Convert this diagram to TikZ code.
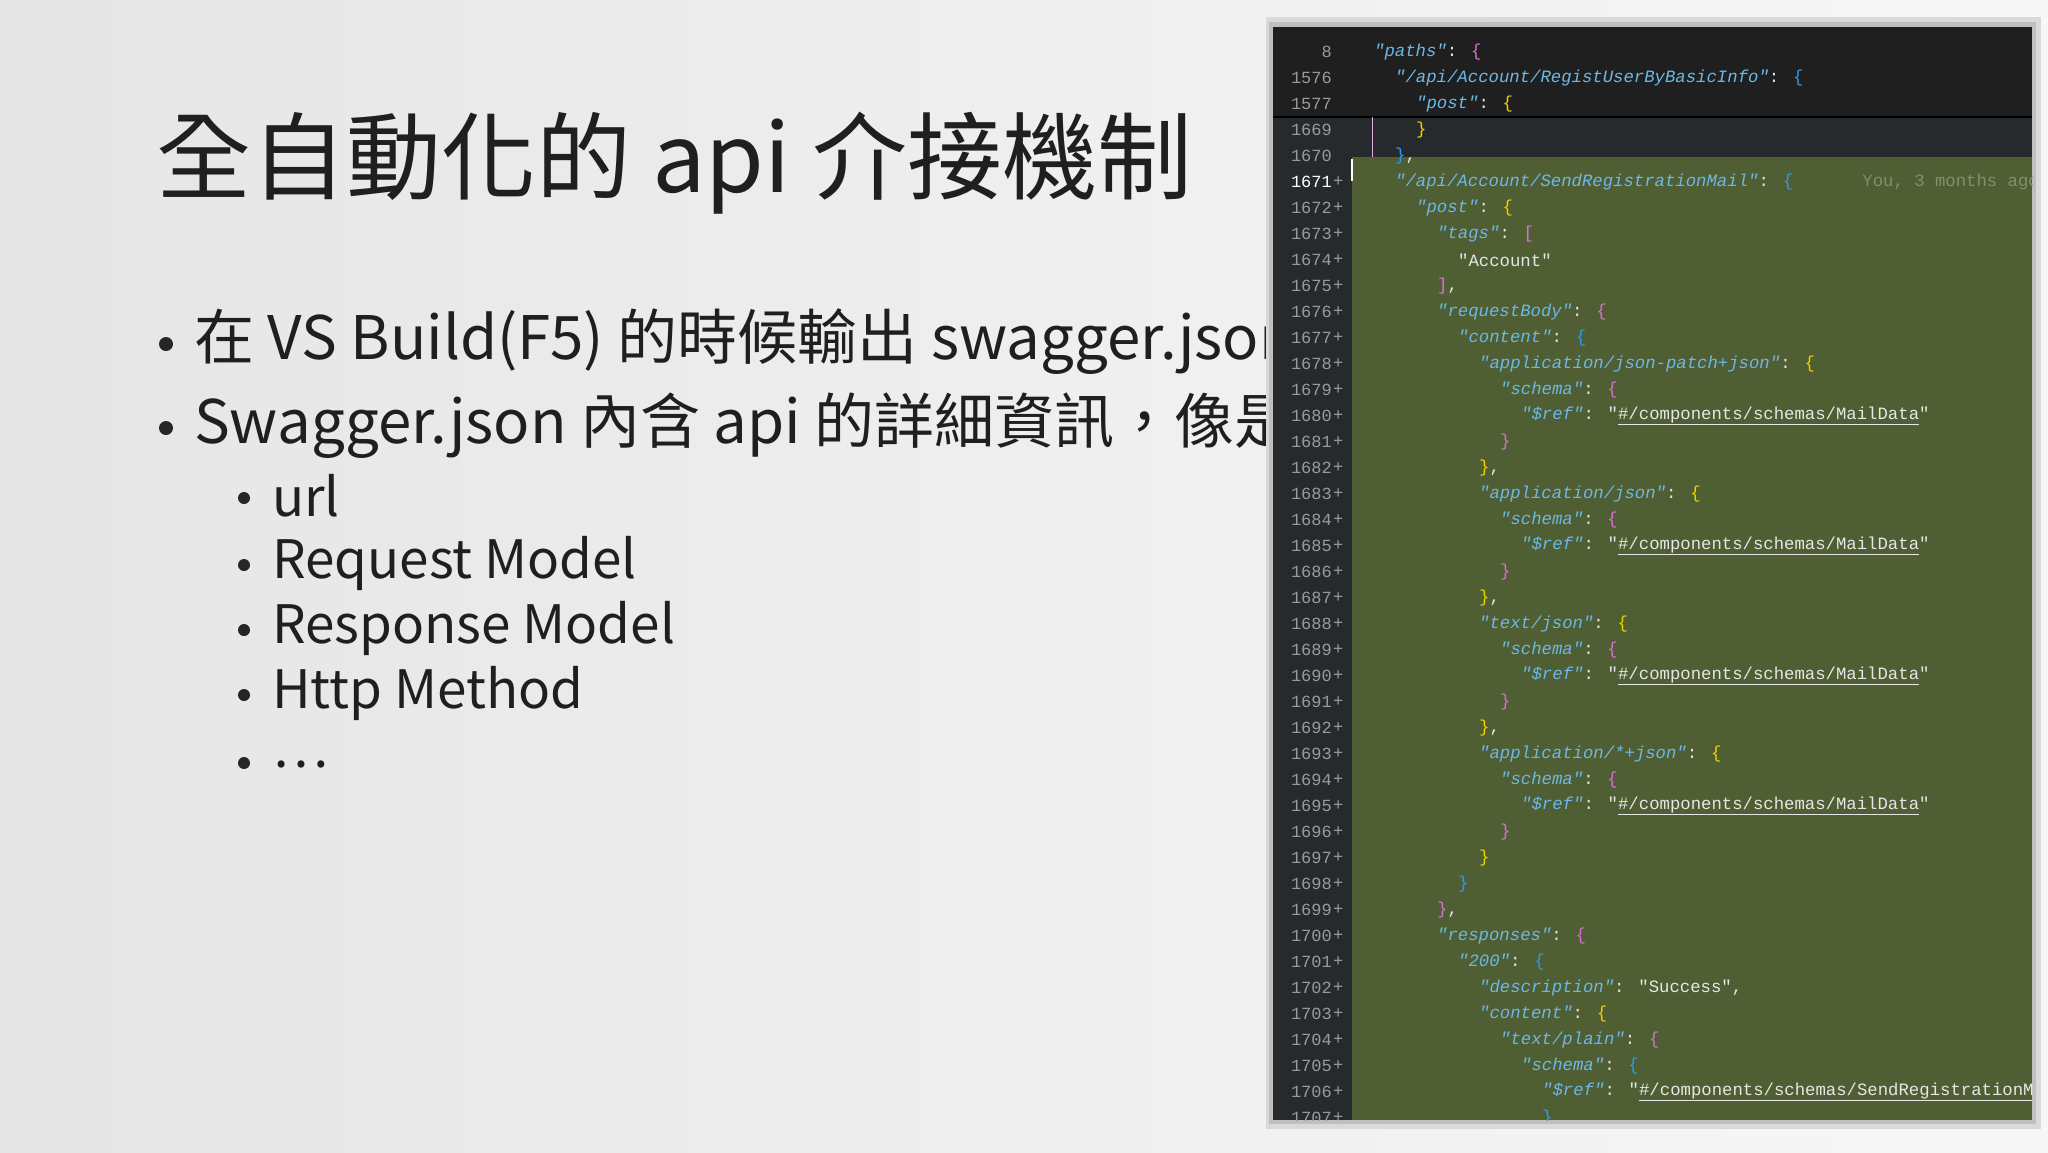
\documentclass[tikz,border=0pt]{standalone}
\usepackage{fontspec}
\newfontfamily\cjk{Noto Sans CJK TC}
\newfontfamily\codef{Liberation Mono}
\definecolor{keyc}{HTML}{6DB8E8}
\definecolor{strc}{HTML}{E6E6E6}
\definecolor{bma}{HTML}{D86FD6}
\definecolor{bbl}{HTML}{2D9BF0}
\definecolor{bye}{HTML}{F2D000}
\definecolor{numc}{HTML}{9A9A9A}
\definecolor{greenbg}{HTML}{4F5E33}
\definecolor{darkbg}{HTML}{272A2D}
\newcommand\K[1]{\textcolor{keyc}{\itshape"#1"}\textcolor{strc}{:}}
\newcommand\Sv[1]{\textcolor{strc}{"#1"}}
\newcommand\Rf[1]{\textcolor{strc}{"\underline{#1}"}}
\newcommand\Bm[1]{\textcolor{bma}{#1}}
\newcommand\Bb[1]{\textcolor{bbl}{#1}}
\newcommand\By[1]{\textcolor{bye}{#1}}
\newcommand\Cm{\textcolor{strc}{,}}
\tikzset{
  numst/.style={anchor=east,inner sep=0pt,font=\codef\fontsize{17}{20}\selectfont,text=numc},
  plusst/.style={anchor=west,inner sep=0pt,font=\codef\fontsize{17}{20}\selectfont,text=numc},
  codest/.style={anchor=west,inner sep=0pt,font=\codef\fontsize{17.3}{20}\selectfont},
  titlest/.style={anchor=west,inner sep=0pt,font=\cjk\fontsize{95}{100}\selectfont,text=black!88},
  bul/.style={anchor=west,inner sep=0pt,font=\cjk\fontsize{60}{70}\selectfont,text=black!88},
  sbul/.style={anchor=west,inner sep=0pt,font=\cjk\fontsize{53}{60}\selectfont,text=black!88},
  dot/.style={circle,fill=black!85,inner sep=0pt,minimum size=#1}
}
\newcommand\cl[5]{%
  \node[numst,#5] (n#1) at (1332,{52+26*#1}) {#2};
  \node[codest] (c#1) at ({1374+21*#3},{52+26*#1}) {#4};}
\begin{document}
\begin{tikzpicture}[x=1pt,y=-1pt]
\useasboundingbox (0,0) rectangle (2048,1152);
\shade[left color=black!10,right color=black!3] (0,0) rectangle (2048,1152);
% left text
\node[titlest] (title) at (156,163) {全自動化的 api 介接機制};
\begin{scope}
\clip (0,0) rectangle (1266,1152);
\node[dot=14pt] (d1) at (166,344) {};
\node[bul] (b1) at (194,342) {在 VS Build(F5) 的時候輸出 swagger.json};
\node[dot=14pt] (d2) at (166,428) {};
\node[bul] (b2) at (194,426) {Swagger.json 內含 api 的詳細資訊，像是};
\end{scope}
\node[dot=12pt] (e1) at (244,498) {};
\node[sbul] (s1) at (272,496) {url};
\node[dot=12pt] (e2) at (244,565) {};
\node[sbul] (s2) at (272,563) {Request Model};
\node[dot=12pt] (e3) at (244,630) {};
\node[sbul] (s3) at (272,628) {Response Model};
\node[dot=12pt] (e4) at (244,695) {};
\node[sbul] (s4) at (272,693) {Http Method};
\node[dot=12pt] (e5) at (244,763) {};
\node[sbul] (s5) at (272,764) {…};
% panel
\fill[black!15] (1266,17) rectangle (2041,1129);
\fill[black!25] (1269,22) rectangle (2036,1124);
\fill[darkbg] (1273,27) rectangle (2032,1120);
\fill[black!88] (1273,27) rectangle (2032,117);
\draw[black,line width=1.5pt] (1273,117) -- (2032,117);
\fill[greenbg] (1352,157) rectangle (2032,1120);
\draw[white,line width=2pt] (1352,159) -- (1352,181);
\draw[bma!60,line width=1pt] (1372,117) -- (1372,157);
\begin{scope}
\clip (1273,27) rectangle (2032,1120);
\cl{0}{8}{0}{\K{paths} \Bm{\{}}{}
\cl{1}{1576}{1}{\K{/api/Account/RegistUserByBasicInfo} \Bb{\{}}{}
\cl{2}{1577}{2}{\K{post} \By{\{}}{}
\cl{3}{1669}{2}{\By{\}}}{}
\cl{4}{1670}{1}{\Bb{\}}\Cm}{}
\cl{5}{1671}{1}{\K{/api/Account/SendRegistrationMail} \Bb{\{}\hspace{4em}\textcolor{white!30!greenbg}{You, 3 months ago}}{text=white}
\cl{6}{1672}{2}{\K{post} \By{\{}}{}
\cl{7}{1673}{3}{\K{tags} \Bm{[}}{}
\cl{8}{1674}{4}{\Sv{Account}}{}
\cl{9}{1675}{3}{\Bm{]}\Cm}{}
\cl{10}{1676}{3}{\K{requestBody} \Bm{\{}}{}
\cl{11}{1677}{4}{\K{content} \Bb{\{}}{}
\cl{12}{1678}{5}{\K{application/json-patch+json} \By{\{}}{}
\cl{13}{1679}{6}{\K{schema} \Bm{\{}}{}
\cl{14}{1680}{7}{\K{\$ref} \Rf{\#/components/schemas/MailData}}{}
\cl{15}{1681}{6}{\Bm{\}}}{}
\cl{16}{1682}{5}{\By{\}}\Cm}{}
\cl{17}{1683}{5}{\K{application/json} \By{\{}}{}
\cl{18}{1684}{6}{\K{schema} \Bm{\{}}{}
\cl{19}{1685}{7}{\K{\$ref} \Rf{\#/components/schemas/MailData}}{}
\cl{20}{1686}{6}{\Bm{\}}}{}
\cl{21}{1687}{5}{\By{\}}\Cm}{}
\cl{22}{1688}{5}{\K{text/json} \By{\{}}{}
\cl{23}{1689}{6}{\K{schema} \Bm{\{}}{}
\cl{24}{1690}{7}{\K{\$ref} \Rf{\#/components/schemas/MailData}}{}
\cl{25}{1691}{6}{\Bm{\}}}{}
\cl{26}{1692}{5}{\By{\}}\Cm}{}
\cl{27}{1693}{5}{\K{application/*+json} \By{\{}}{}
\cl{28}{1694}{6}{\K{schema} \Bm{\{}}{}
\cl{29}{1695}{7}{\K{\$ref} \Rf{\#/components/schemas/MailData}}{}
\cl{30}{1696}{6}{\Bm{\}}}{}
\cl{31}{1697}{5}{\By{\}}}{}
\cl{32}{1698}{4}{\Bb{\}}}{}
\cl{33}{1699}{3}{\Bm{\}}\Cm}{}
\cl{34}{1700}{3}{\K{responses} \Bm{\{}}{}
\cl{35}{1701}{4}{\K{200} \Bb{\{}}{}
\cl{36}{1702}{5}{\K{description} \Sv{Success}\Cm}{}
\cl{37}{1703}{5}{\K{content} \By{\{}}{}
\cl{38}{1704}{6}{\K{text/plain} \Bm{\{}}{}
\cl{39}{1705}{7}{\K{schema} \Bb{\{}}{}
\cl{40}{1706}{8}{\K{\$ref} \Rf{\#/components/schemas/SendRegistrationMail}}{}
\cl{41}{1707}{8}{\Bb{\}}}{}
\foreach \i in {5,...,41}{\node[plusst] at (1333,{52+26*\i}) {+};}
\end{scope}
\end{tikzpicture}
\end{document}
